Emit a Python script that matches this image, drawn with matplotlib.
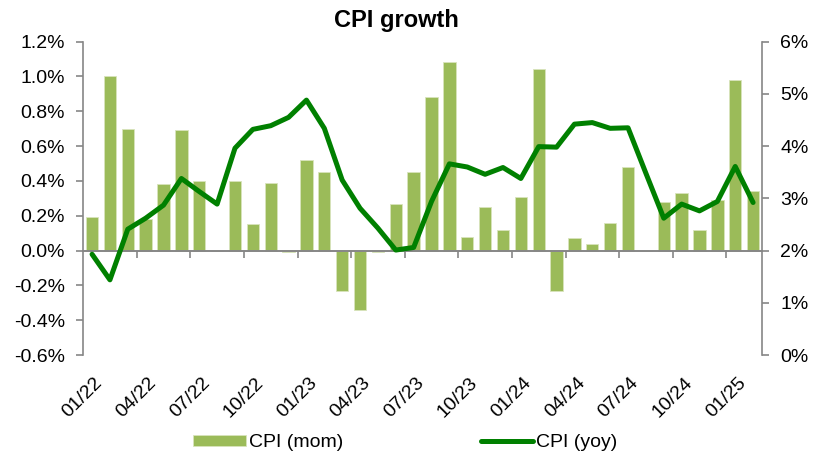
#!/usr/bin/env python3
"""CPI growth: monthly change (bars) and yearly change (line)."""

import matplotlib
matplotlib.use("Agg")
import matplotlib.pyplot as plt
from matplotlib.transforms import blended_transform_factory

plt.rcParams['font.family'] = ['Liberation Sans', 'DejaVu Sans']

months = ['01/22', '02/22', '03/22', '04/22', '05/22', '06/22', '07/22', '08/22',
          '09/22', '10/22', '11/22', '12/22', '01/23', '02/23', '03/23', '04/23',
          '05/23', '06/23', '07/23', '08/23', '09/23', '10/23', '11/23', '12/23',
          '01/24', '02/24', '03/24', '04/24', '05/24', '06/24', '07/24', '08/24',
          '09/24', '10/24', '11/24', '12/24', '01/25', '02/25']
cpi_mom = [0.19, 1.00, 0.70, 0.18, 0.38, 0.69, 0.40, 0.00,
           0.40, 0.15, 0.39, -0.01, 0.52, 0.45, -0.23, -0.34,
           -0.01, 0.27, 0.45, 0.88, 1.08, 0.08, 0.25, 0.12,
           0.31, 1.04, -0.23, 0.07, 0.04, 0.16, 0.48, 0.00,
           0.28, 0.33, 0.12, 0.29, 0.98, 0.34]
cpi_yoy = [1.93, 1.44, 2.41, 2.62, 2.87, 3.38, 3.13, 2.89,
           3.96, 4.32, 4.39, 4.55, 4.88, 4.34, 3.35, 2.81,
           2.43, 2.01, 2.06, 2.94, 3.66, 3.60, 3.46, 3.59,
           3.38, 3.99, 3.98, 4.42, 4.45, 4.34, 4.35, 3.48,
           2.62, 2.89, 2.76, 2.94, 3.61, 2.92]

BAR = '#9bbb59'
LINE = '#008000'
GRAY = '#868686'
FS = 14

x = list(range(len(months)))

fig = plt.figure(figsize=(8.15, 4.57), dpi=100)
ax = fig.add_axes([0.102, 0.223, 0.833, 0.686])
ax2 = ax.twinx()

bars = ax.bar(x, cpi_mom, width=0.69, color=BAR, edgecolor='#d8e4bc',
              linewidth=0.6, label='CPI (mom)', zorder=2)
line, = ax2.plot(x, cpi_yoy, color=LINE, linewidth=3.6, solid_capstyle='round',
                 solid_joinstyle='round', label='CPI (yoy)', zorder=3)

ax.set_xlim(-0.5, len(months) - 0.5)
ax.set_ylim(-0.6, 1.2)
ax.set_yticks([i / 10 for i in range(-6, 13, 2)])
ax.set_yticklabels([f'{v / 10:.1f}%' for v in range(-6, 13, 2)])
ax2.set_ylim(0, 6)
ax2.set_yticks(range(0, 7))
ax2.set_yticklabels([f'{v}%' for v in range(0, 7)])

# ax2 on top of ax, but keep the bars visible under the line
ax.set_zorder(1)
ax2.set_zorder(2)
ax2.patch.set_visible(False)

for a in (ax, ax2):
    a.spines['top'].set_visible(False)
    a.spines['bottom'].set_visible(False)
    a.tick_params(axis='y', labelsize=FS, colors=GRAY, labelcolor='black',
                  length=5, width=1.2, pad=8)
ax.spines['right'].set_visible(False)
ax2.spines['left'].set_visible(False)
ax.spines['left'].set_color(GRAY)
ax.spines['left'].set_linewidth(1.2)
ax2.spines['right'].set_color(GRAY)
ax2.spines['right'].set_linewidth(1.2)

# category axis sits on the zero line, ticks every quarter between categories
ax.spines['bottom'].set_visible(True)
ax.spines['bottom'].set_position(('data', 0))
ax.spines['bottom'].set_color(GRAY)
ax.spines['bottom'].set_linewidth(1.4)
ax.set_xticks([k - 0.5 for k in range(3, len(months), 3)])
ax.tick_params(axis='x', colors=GRAY, length=5, width=1.2, labelbottom=False)

trans = blended_transform_factory(ax.transData, ax.transAxes)
for i in range(0, len(months), 3):
    ax.text(i + 0.45, -0.08, months[i], transform=trans, rotation=45,
            rotation_mode='anchor', ha='right', va='center', fontsize=FS)

fig.text(0.486, 0.956, 'CPI growth', ha='center', va='center',
         fontsize=17, fontweight='bold')

fig.legend([bars, line], ['CPI (mom)', 'CPI (yoy)'], loc='center',
           bbox_to_anchor=(0.4975, 0.031), ncol=2, frameon=False, fontsize=FS,
           handlelength=2.7, handleheight=0.55, columnspacing=7.1,
           handletextpad=0.15, borderpad=0, borderaxespad=0)

plt.savefig('out.png', dpi=100)
plt.close()
